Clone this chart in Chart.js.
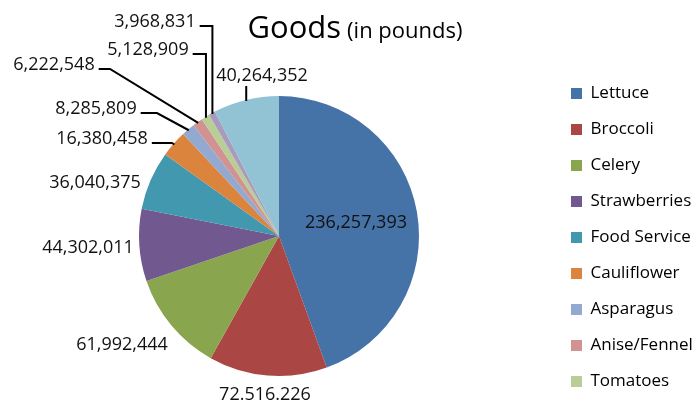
<!DOCTYPE html>
<html>
<head>
<meta charset="utf-8">
<script src="https://cdn.jsdelivr.net/npm/chart.js@4.4.1/dist/chart.umd.min.js"></script>
<style>
  html, body { margin: 0; padding: 0; background: #fff; }
  #wrap { width: 699px; height: 402px; }
</style>
</head>
<body>
<div id="wrap"><canvas id="chart-goods" width="699" height="402"></canvas></div>
<script>
  /* ── Data ── */
  const categories = ['Lettuce', 'Broccoli', 'Celery', 'Strawberries', 'Food Service', 'Cauliflower',
                      'Asparagus', 'Anise/Fennel', 'Tomatoes', 'Misc.', 'Other'];
  const pounds = [236257393, 72516226, 61992444, 44302011, 36040375, 16380458,
                  8285809, 6222548, 5128909, 3968831, 40264352];
  const valueLabels = ['236,257,393', '72.516.226', '61,992,444', '44,302,011', '36,040,375', '16,380,458',
                       '8,285,809', '6,222,548', '5,128,909', '3,968,831', '40,264,352'];
  const legendCount = 9;

  const colors = ['#4572A7', '#AA4643', '#89A54E', '#71588F', '#4198AF', '#DB843D',
                  '#93A9CF', '#D19392', '#B9CD96', '#A99BBD', '#92C3D4'];

  /* ── Label layout (text centres + leader style) ── */
  const labelPos = [[356, 223], [265, 395], [122, 345], [88, 248], [95, 183], [102, 139],
                    [96, 109], [54, 65], [148, 50], [155, 22], [262, 76]];
  // null = no leader, number = horizontal run to that x, 'v' = run to the slice x then down, 'up' = short line under text
  const leaderKind = [null, null, null, null, null, 172, 157, 110, 'v', 'v', 'up'];

  const FONT = '"Open Sans", "Liberation Sans", sans-serif';

  /* ── Title as a layout box (reserves the top band) ── */
  const titlePlugin = {
    id: 'goodsTitle',
    beforeInit(chart) {
      const box = {
        position: 'top',
        weight: 2000,
        fullSize: true,
        options: {},
        left: 0, top: 0, right: 0, bottom: 0, width: 0, height: 0,
        isHorizontal() { return true; },
        update(maxWidth) {
          this.width = maxWidth;
          this.height = 70;
        },
        draw() {
          const ctx = chart.ctx;
          ctx.save();
          ctx.fillStyle = '#000';
          ctx.textBaseline = 'alphabetic';
          ctx.textAlign = 'left';
          ctx.font = '31px ' + FONT;
          const w1 = ctx.measureText('Goods').width;
          ctx.font = '22px ' + FONT;
          const w2 = ctx.measureText('(in pounds)').width;
          const x0 = 355 - (w1 + 6 + w2) / 2;
          const base = this.top + 38;
          ctx.font = '31px ' + FONT;
          ctx.fillText('Goods', x0, base);
          ctx.font = '22px ' + FONT;
          ctx.fillText('(in pounds)', x0 + w1 + 6, base);
          ctx.restore();
        }
      };
      Chart.layouts.addBox(chart, box);
    }
  };

  /* ── Value labels with leader lines ── */
  const labelPlugin = {
    id: 'pieLabels',
    afterDatasetsDraw(chart) {
      const { ctx } = chart;
      const arcs = chart.getDatasetMeta(0).data;
      ctx.save();
      ctx.font = '18px ' + FONT;
      ctx.fillStyle = '#111';
      ctx.strokeStyle = '#000';
      ctx.lineWidth = 2;
      ctx.textAlign = 'center';
      ctx.textBaseline = 'middle';
      arcs.forEach((arc, i) => {
        const [tx, ty] = labelPos[i];
        ctx.fillText(valueLabels[i], tx, ty);
        const kind = leaderKind[i];
        if (!kind) return;
        const { x, y, startAngle, endAngle, outerRadius } =
          arc.getProps(['x', 'y', 'startAngle', 'endAngle', 'outerRadius'], true);
        const mid = (startAngle + endAngle) / 2;
        const ex = x + Math.cos(mid) * (outerRadius - 1);
        const ey = y + Math.sin(mid) * (outerRadius - 1);
        const w = ctx.measureText(valueLabels[i]).width;
        ctx.beginPath();
        if (kind === 'up') {
          ctx.moveTo(ex, ty + 10);
          ctx.lineTo(ex, ey);
        } else {
          const sx = tx + w / 2 + 4;
          const sy = ty + 4;
          const elbowX = kind === 'v' ? ex : kind;
          ctx.moveTo(sx, sy);
          ctx.lineTo(elbowX, sy);
          ctx.lineTo(ex, ey);
        }
        ctx.stroke();
      });
      ctx.restore();
    }
  };

  /* ── Chart ── */
  new Chart(document.getElementById('chart-goods'), {
    type: 'pie',
    data: {
      labels: categories,
      datasets: [{
        data: pounds,
        backgroundColor: colors,
        borderWidth: 0,
        hoverOffset: 0,
        radius: 140
      }]
    },
    options: {
      responsive: false,
      animation: false,
      devicePixelRatio: 1,
      events: [],
      layout: { padding: { top: 0, bottom: -7, left: 6, right: 7 } },
      plugins: {
        title: { display: false },
        tooltip: { enabled: false },
        legend: {
          position: 'right',
          align: 'end',
          maxWidth: 140,
          labels: {
            boxWidth: 11,
            boxHeight: 11,
            padding: 19,
            color: '#000',
            font: { family: FONT, size: 17 },
            filter: (item) => item.index < legendCount
          }
        }
      }
    },
    plugins: [labelPlugin, titlePlugin]
  });
</script>
</body>
</html>
